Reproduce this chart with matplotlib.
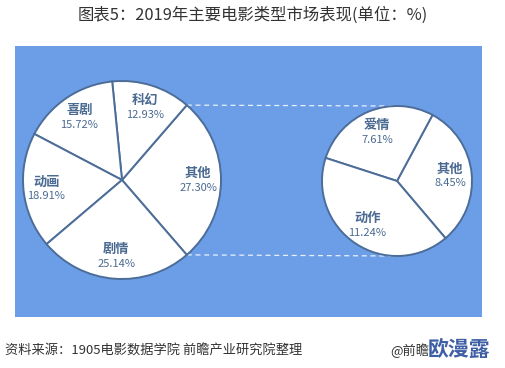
import matplotlib

matplotlib.use("Agg")

import matplotlib.pyplot as plt
import numpy as np
from matplotlib.patches import Rectangle

plt.rcParams["font.family"] = ["Noto Sans CJK SC", "DejaVu Sans"]

main_labels = ["其他", "科幻", "喜剧", "动画", "剧情"]
main_values = [27.30, 12.93, 15.72, 18.91, 25.14]

sub_labels = ["其他", "爱情", "动作"]
sub_values = [8.45, 7.61, 11.24]

title = "图表5：2019年主要电影类型市场表现(单位：%)"
source = "资料来源：1905电影数据学院 前瞻产业研究院整理"

W, H = 506, 368
BG = "#6b9ee6"
EDGE = "#4d6d99"
TXT = "#4a6a92"

fig = plt.figure(figsize=(W / 100, H / 100), dpi=100)
ax = fig.add_axes([0, 0, 1, 1])


def yy(v):
    return H - v


ax.add_patch(Rectangle((15, yy(317)), 467, 271, facecolor=BG, edgecolor="none", zorder=0))

# main pie, "其他" slice centred on the right
c1, r1 = (122, yy(180)), 99
start1 = -main_values[0] / 100 * 360 / 2
wedges1, _ = ax.pie(
    main_values, center=c1, radius=r1, startangle=start1, counterclock=True,
    colors=["white"] * len(main_values),
    wedgeprops=dict(edgecolor=EDGE, linewidth=1.4),
    frame=True,
)

# secondary pie breaking down "其他"
c2, r2 = (397, yy(181)), 75
start2 = -49.7
wedges2, _ = ax.pie(
    sub_values, center=c2, radius=r2, startangle=start2, counterclock=True,
    colors=["white"] * len(sub_values),
    wedgeprops=dict(edgecolor=EDGE, linewidth=1.4),
    frame=True,
)
ax.set_xlim(0, W)
ax.set_ylim(0, H)
ax.set_aspect("equal")
ax.axis("off")


def put_labels(wedges, labels, values, center, radius, dist):
    for w, lab, val in zip(wedges, labels, values):
        mid = np.deg2rad((w.theta1 + w.theta2) / 2)
        x = center[0] + dist * radius * np.cos(mid)
        y = center[1] + dist * radius * np.sin(mid)
        ax.text(x, y + 7, lab, ha="center", va="center", fontsize=9.5,
                fontweight="bold", color=TXT, zorder=5)
        ax.text(x, y - 8, f"{val:.2f}%", ha="center", va="center", fontsize=8,
                color=TXT, zorder=5)


put_labels(wedges1, main_labels, main_values, c1, r1, 0.77)
put_labels(wedges2, sub_labels, sub_values, c2, r2, 0.71)

# connector lines from the "其他" slice edges to the secondary pie
half = np.deg2rad(main_values[0] / 100 * 360 / 2)
for s in (1, -1):
    x0 = c1[0] + r1 * np.cos(half)
    y0 = c1[1] + s * r1 * np.sin(half)
    ax.plot([x0, c2[0]], [y0, c2[1] + s * r2], color="white", lw=0.9,
            ls=(0, (4, 3)), alpha=0.85, zorder=0.5)

ax.text(W / 2, yy(15), title, ha="center", va="center", fontsize=11.8, color="#333333")
ax.text(5, yy(351), source, ha="left", va="center", fontsize=9.5, color="#333333")
ax.text(390, yy(351), "@前瞻", ha="left", va="center", fontsize=9.5, color="#333333")
ax.text(428, yy(350), "欧漫露", ha="left", va="center", fontsize=15, fontweight="bold",
        color="#3f5fa5", zorder=6)

fig.savefig("out.png", dpi=100)
